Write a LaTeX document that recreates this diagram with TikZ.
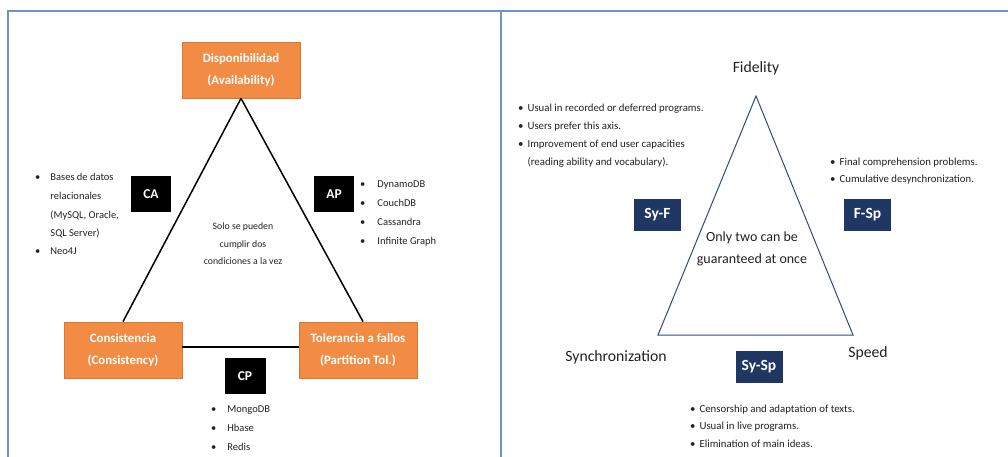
\documentclass[tikz,border=0pt]{standalone}
\usepackage{fontspec}
\setmainfont{Carlito}
\usepackage[rgb]{xcolor}
\usetikzlibrary{positioning}
\definecolor{frameblue}{HTML}{6F93C9}
\definecolor{capor}{HTML}{F28C45}
\definecolor{capordark}{HTML}{D9782F}
\definecolor{navy}{HTML}{1F3763}
\definecolor{triblue}{HTML}{2F4A7C}
\definecolor{txt}{HTML}{222222}
\tikzset{
  capbox/.style={fill=capor, draw=capordark, line width=0.8pt, text=white,
    font=\fontsize{12.8}{22}\selectfont\bfseries, align=center,
    minimum width=118pt, minimum height=56pt, inner sep=0pt},
  pairbox/.style={fill=black, text=white, font=\fontsize{13.5}{14}\selectfont\bfseries,
    minimum width=40pt, minimum height=35pt, inner sep=0pt},
  axisbox/.style={fill=navy, text=white, font=\fontsize{15.5}{16}\selectfont\bfseries,
    minimum width=47pt, minimum height=32pt, inner sep=0pt},
  itemlist/.style={anchor=base west, inner sep=0pt, text=txt, align=left},
}
\newcommand{\bl}{\textbullet}

\begin{document}
\begin{tikzpicture}[x=1pt, y=-1pt]
    \useasboundingbox (0,0) rectangle (1008,457);
    % frame lines
    \draw[frameblue, line width=1.6pt] (8,457) -- (8,11) -- (1008,11);
    \draw[frameblue, line width=1.6pt] (501,11) -- (501,457);

    % --- left: CAP theorem
    \node[capbox] (disp) at (241,70) {Disponibilidad\\(Availability)};
    \node[capbox] (cons) at (123,350) {Consistencia\\(Consistency)};
    \node[capbox] (tol) at (358,350) {Tolerancia a fallos\\(Partition Tol.)};
    \draw[line width=1.5pt] (disp.south) -- (cons.north);
    \draw[line width=1.5pt] (disp.south) -- ([xshift=5pt]tol.north);
    \draw[line width=1.5pt] ([yshift=3pt]cons.east) -- ([yshift=3pt]tol.west);

    \node[pairbox] (ca) at (151,194) {CA};
    \node[pairbox] (ap) at (334,194) {AP};
    \node[pairbox, minimum width=41pt, minimum height=36pt] (cp) at (245,376) {CP};

    \node[text=txt, align=center, font=\fontsize{9.8}{17.5}\selectfont] (only) at (243,244)
      {Solo se pueden\\cumplir dos\\condiciones a la vez};

    \node[itemlist, font=\fontsize{10.5}{18.5}\selectfont] (calist) at (35,181)
      {\begin{tabular}[t]{@{}l@{\hspace{10pt}}l@{}}
        \bl & Bases de datos\\ & relacionales\\ & (MySQL, Oracle,\\ & SQL Server)\\ \bl & Neo4J
      \end{tabular}};
    \node[itemlist, font=\fontsize{10.5}{19}\selectfont] (aplist) at (360,187)
      {\begin{tabular}[t]{@{}l@{\hspace{12pt}}l@{}}
        \bl & DynamoDB\\ \bl & CouchDB\\ \bl & Cassandra\\ \bl & Infinite Graph
      \end{tabular}};
    \node[itemlist, font=\fontsize{10.5}{19}\selectfont] (cplist) at (211,412)
      {\begin{tabular}[t]{@{}l@{\hspace{11pt}}l@{}}
        \bl & MongoDB\\ \bl & Hbase\\ \bl & Redis
      \end{tabular}};

    % --- right: subtitling triangle
    \coordinate (fidv) at (756,96);
    \coordinate (synv) at (658,335);
    \coordinate (spdv) at (853,335);
    \draw[triblue, line width=1pt, line join=miter] (fidv) -- (spdv) -- (synv) -- cycle;

    \node[text=txt, font=\fontsize{15.7}{17}\selectfont] (fid) at (756,68) {Fidelity};
    \node[text=txt, font=\fontsize{15.7}{17}\selectfont] (syn) at (616,357) {Synchronization};
    \node[text=txt, font=\fontsize{15.7}{17}\selectfont] (spd) at (868,353) {Speed};

    \node[axisbox] (syf) at (657.5,215) {Sy-F};
    \node[axisbox] (fsp) at (867.5,215) {F-Sp};
    \node[axisbox] (sysp) at (759,367) {Sy-Sp};

    \node[text=txt, align=center, font=\fontsize{14}{22}\selectfont] (guar) at (752,249)
      {Only two can be\\guaranteed at once};

    \node[itemlist, font=\fontsize{10.8}{18}\selectfont] (syflist) at (518,112)
      {\begin{tabular}[t]{@{}l@{\hspace{4pt}}l@{}}
        \bl & Usual in recorded or deferred programs.\\
        \bl & Users prefer this axis.\\
        \bl & Improvement of end user capacities\\
            & (reading ability and vocabulary).
      \end{tabular}};
    \node[itemlist, font=\fontsize{10.8}{17}\selectfont] (fsplist) at (830,166)
      {\begin{tabular}[t]{@{}l@{\hspace{4pt}}l@{}}
        \bl & Final comprehension problems.\\
        \bl & Cumulative desynchronization.
      \end{tabular}};
    \node[itemlist, font=\fontsize{10.8}{17.5}\selectfont] (sysplist) at (690,412)
      {\begin{tabular}[t]{@{}l@{\hspace{4pt}}l@{}}
        \bl & Censorship and adaptation of texts.\\
        \bl & Usual in live programs.\\
        \bl & Elimination of main ideas.
      \end{tabular}};
\end{tikzpicture}
\end{document}
